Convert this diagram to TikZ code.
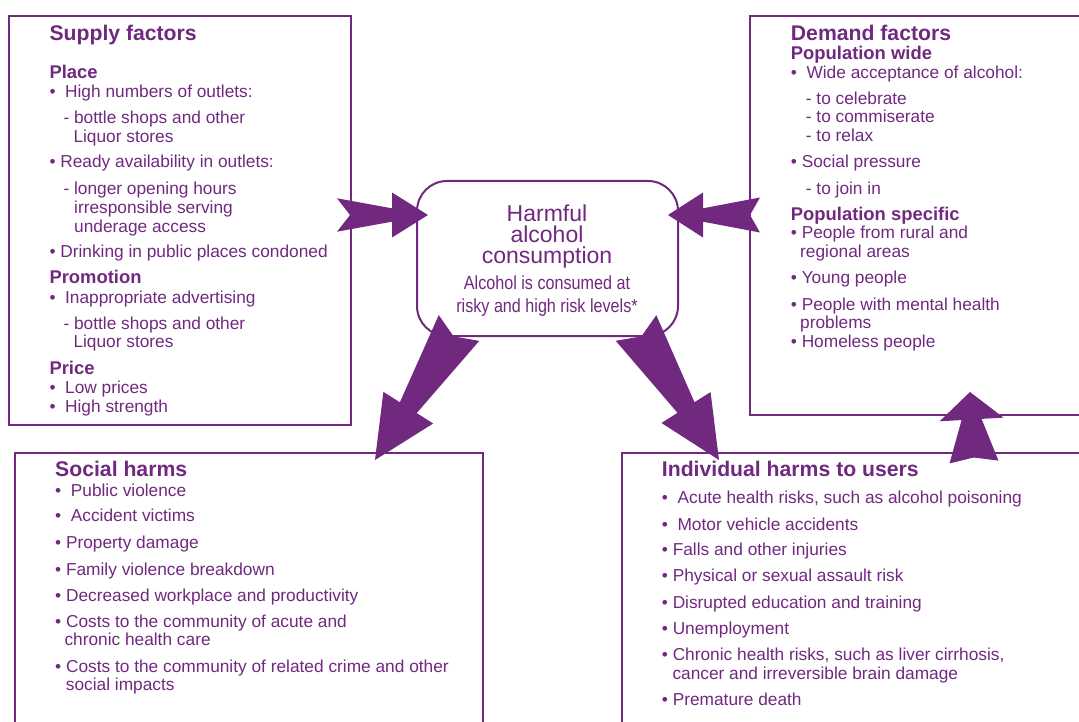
\documentclass[tikz,border=0pt]{standalone}
\usepackage{fontspec}
\setmainfont{Liberation Sans}
\newfontfamily\condfont[FakeStretch=0.85]{Liberation Sans}
\usetikzlibrary{calc}
\definecolor{plum}{RGB}{112,41,127}

\tikzset{
	box/.style={draw=plum, line width=2pt, inner sep=0pt},
	item/.style={anchor=base west, inner sep=0pt, text=plum, font=\fontsize{17.3}{19}\selectfont},
	head/.style={item, font=\fontsize{21.2}{24}\selectfont\bfseries},
	subhead/.style={item, font=\fontsize{18.4}{21}\selectfont\bfseries},
	title/.style={anchor=north, inner sep=0pt, align=center, text=plum, font=\fontsize{23}{21}\selectfont},
	note/.style={anchor=north, inner sep=0pt, align=center, text=plum, font=\condfont\fontsize{19}{22.7}\selectfont}
}

% fat arrow: tail, tip, head length, head half width, neck half width, tail half width, notch
\newcommand{\fatarrow}[7]{%
	\coordinate (hb) at ($(#2)!#3!(#1)$);
	\fill[plum] ($(#1)!#6!90:(#2)$) -- ($(hb)!#5!90:(#2)$) -- ($(hb)!#4!90:(#2)$) -- (#2)
		-- ($(hb)!#4!-90:(#2)$) -- ($(hb)!#5!-90:(#2)$) -- ($(#1)!#6!-90:(#2)$) -- ($(#1)!#7!(#2)$) -- cycle;
}

\begin{document}
\begin{tikzpicture}[x=1pt, y=-1pt]
	\useasboundingbox (0,0) rectangle (1079,722);
	\clip (0,0) rectangle (1079,722);

	% Boxes
	\node[box, minimum width=342pt, minimum height=409pt] (supply) at (180,220.5) {};
	\node[box, minimum width=350pt, minimum height=399pt] (demand) at (925,215.5) {};
	\node[box, minimum width=468pt, minimum height=290pt] (social) at (249,597.7) {};
	\node[box, minimum width=478pt, minimum height=290pt] (indiv) at (860.7,597.7) {};
	\node[box, fill=white, rounded corners=30pt, minimum width=261pt, minimum height=155pt] (core) at (547.5,258.5) {};

	% Harmful alcohol consumption
	\node[title] (coreTitle) at (547,205) {Harmful\\alcohol\\consumption};
	\node[note] (coreNote) at (547,275.4) {Alcohol is consumed at\\risky and high risk levels*};

	% Supply factors
	\node[head] (supHead) at (49.3,41) {Supply factors};
	\node[subhead] (supPlace) at (49.3,79) {Place};
	\node[subhead] (supPromo) at (49.3,283.3) {Promotion};
	\node[subhead] (supPrice) at (49.3,374) {Price};
	\foreach \x/\y/\t [count=\i] in {49.3/97.3/•~~High numbers of outlets:, 63.3/123.3/- bottle shops and other,
		73.3/142.3/Liquor stores, 49.3/167.7/• Ready availability in outlets:, 63.3/195/- longer opening hours,
		74/213.3/irresponsible serving, 74/232.3/underage access, 49.3/257.7/• Drinking in public places condoned,
		49.3/303.3/•~~Inappropriate advertising, 63.3/329.3/- bottle shops and other, 73.3/347.7/Liquor stores,
		49.3/393.3/•~~Low prices, 49.3/412.3/•~~High strength}
		\node[item] (sup\i) at (\x,\y) {\t};

	% Demand factors
	\node[head] (demHead) at (790.7,41) {Demand factors};
	\node[subhead] (demWide) at (790.7,60) {Population wide};
	\node[subhead] (demSpec) at (790.7,220.7) {Population specific};
	\foreach \x/\y/\t [count=\i] in {790.7/79/•~~Wide acceptance of alcohol:, 805.7/105/- to celebrate,
		805.7/122.7/- to commiserate, 805.7/141.7/- to relax, 790.7/167.3/• Social pressure, 805.7/195/- to join in,
		790.7/238.7/• People from rural and, 800/257.7/regional areas, 790.7/283.3/• Young people,
		790.7/310.7/• People with mental health, 800/328.3/problems, 790.7/347.7/• Homeless people}
		\node[item] (dem\i) at (\x,\y) {\t};

	% Social harms
	\node[head] (socHead) at (55,476.7) {Social harms};
	\foreach \x/\y/\t [count=\i] in {55/496/•~~Public violence, 55/521.7/•~~Accident victims, 55/548.3/• Property damage,
		55/575/• Family violence breakdown, 55/601.7/• Decreased workplace and productivity,
		55/627.3/• Costs to the community of acute and, 64.3/645.7/chronic health care,
		55/672.3/• Costs to the community of related crime and other, 65.7/690.7/social impacts}
		\node[item] (soc\i) at (\x,\y) {\t};

	% Individual harms to users
	\node[head] (indHead) at (661.7,476) {Individual harms to users};
	\foreach \x/\y/\t [count=\i] in {661.7/503.3/{•~~Acute health risks, such as alcohol poisoning}, 661.7/530/•~~Motor vehicle accidents,
		661.7/555.7/• Falls and other injuries, 661.7/581.7/• Physical or sexual assault risk,
		661.7/608.3/• Disrupted education and training, 661.7/634.3/• Unemployment,
		661.7/660.7/{• Chronic health risks, such as liver cirrhosis,}, 672.3/679.3/cancer and irreversible brain damage,
		661.7/705.7/• Premature death}
		\node[item] (ind\i) at (\x,\y) {\t};

	% Arrows
	\coordinate (supOut) at (337,215);
	\coordinate (coreInL) at (428,215);
	\coordinate (demOut) at (760,215);
	\coordinate (coreInR) at (668,215);
	\coordinate (coreOutL) at (459,328);
	\coordinate (socIn) at (375,460);
	\coordinate (coreOutR) at (636,328);
	\coordinate (indIn) at (719,460);
	\coordinate (indOut) at (974,462);
	\coordinate (demIn) at (970,392);
	\fatarrow{supOut}{coreInL}{36pt}{22.5pt}{6.7pt}{16.7pt}{13pt}
	\fatarrow{demOut}{coreInR}{35pt}{22.5pt}{6.7pt}{17.5pt}{10pt}
	\fatarrow{coreOutL}{socIn}{62pt}{29.5pt}{10pt}{24pt}{10pt}
	\fatarrow{coreOutR}{indIn}{62pt}{29pt}{10pt}{24pt}{10pt}
	\fatarrow{indOut}{demIn}{27.5pt}{32pt}{10pt}{24.5pt}{4.5pt}
\end{tikzpicture}
\end{document}
